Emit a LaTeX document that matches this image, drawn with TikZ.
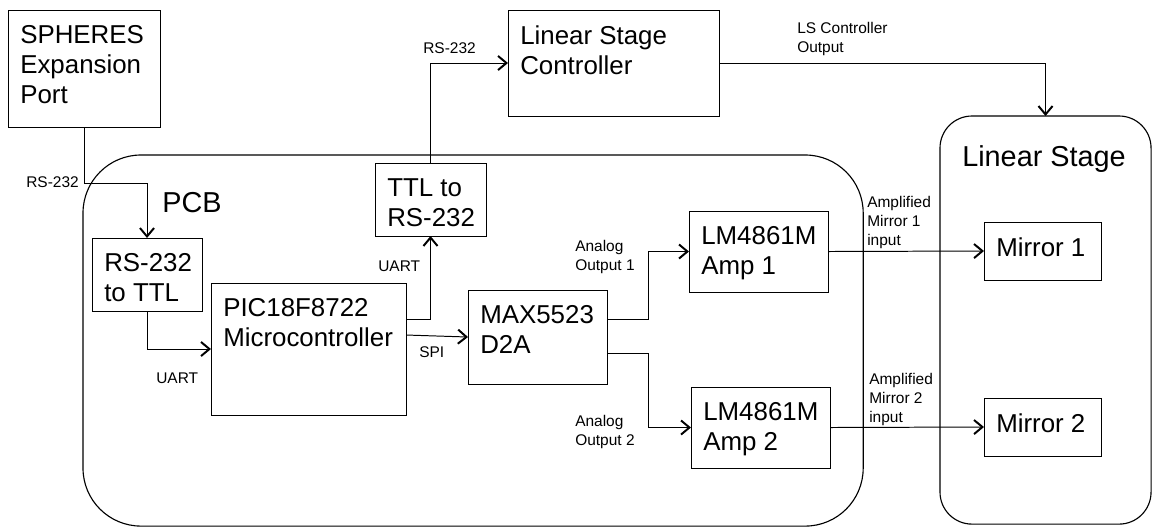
\documentclass[tikz,border=0pt]{standalone}
\usepackage{fontspec}
\setmainfont{Liberation Sans}
\usetikzlibrary{arrows.meta,positioning}

\begin{document}
\begin{tikzpicture}[
    x=0.025cm, y=-0.025cm,
    caja/.style={draw, line width=0.7pt, anchor=north west, inner sep=0pt, outer sep=0pt},
    grupo/.style={caja, line width=0.8pt},
    texto/.style={anchor=north west, inner sep=0pt, xshift=0.3cm, yshift=-0.375cm, align=left, font=\fontsize{18.4}{21.5}\selectfont},
    titulo/.style={anchor=north west, inner sep=0pt, font=\fontsize{20.5}{24}\selectfont},
    etiq/.style={inner sep=0pt, align=left, font=\fontsize{11}{13.5}\selectfont},
    flecha/.style={line width=0.7pt, -{Straight Barb[length=6pt,width=10pt,line width=1.4pt]}}
  ]
  \useasboundingbox (0,0) rectangle (1153,527);

  % Contenedores: PCB y etapa lineal
  \node[grupo, minimum width=19.5cm, minimum height=9.275cm, rounded corners=1.45cm] (pcb) at (83,155) {};
  \node[titulo] (pcbT) at (162,192) {PCB};
  \node[grupo, minimum width=5.275cm, minimum height=10.2cm, rounded corners=0.8cm] (ls) at (940,116) {};
  \node[titulo] (lsT) at (962,145) {Linear Stage};

  % Bloques
  \node[caja, minimum width=3.8cm, minimum height=2.925cm] (sph) at (8,10) {};
  \node[texto] (sphT) at (sph.north west) {SPHERES\\Expansion\\Port};
  \node[caja, minimum width=2.75cm, minimum height=1.825cm] (r2t) at (92,238) {};
  \node[texto] (r2tT) at (r2t.north west) {RS-232\\to TTL};
  \node[caja, minimum width=4.875cm, minimum height=3.3cm] (pic) at (211,283) {};
  \node[texto] (picT) at (pic.north west) {PIC18F8722\\Microcontroller};
  \node[caja, minimum width=2.775cm, minimum height=1.825cm] (ttl) at (375,163) {};
  \node[texto] (ttlT) at (ttl.north west) {TTL to\\RS-232};
  \node[caja, minimum width=5.275cm, minimum height=2.65cm] (lsc) at (508,10) {};
  \node[texto] (lscT) at (lsc.north west) {Linear Stage\\Controller};
  \node[caja, minimum width=3.475cm, minimum height=2.35cm] (max) at (468,290) {};
  \node[texto] (maxT) at (max.north west) {MAX5523\\D2A};
  \node[caja, minimum width=3.475cm, minimum height=2.025cm] (amp1) at (689,211) {};
  \node[texto] (amp1T) at (amp1.north west) {LM4861M\\Amp 1};
  \node[caja, minimum width=3.475cm, minimum height=2.025cm] (amp2) at (691,387) {};
  \node[texto] (amp2T) at (amp2.north west) {LM4861M\\Amp 2};
  \node[caja, minimum width=2.925cm, minimum height=1.45cm] (mir1) at (984,222) {};
  \node[texto] (mir1T) at (mir1.north west) {Mirror 1};
  \node[caja, minimum width=2.925cm, minimum height=1.45cm] (mir2) at (984,398) {};
  \node[texto] (mir2T) at (mir2.north west) {Mirror 2};

  % Conexiones
  \draw[flecha] (sph.south) -- ++(0,56) -| (r2t.north);
  \draw[flecha] (r2t.south) |- (pic.west);
  \draw[flecha] ([yshift=0.75cm]pic.east) -| (ttl.south);
  \draw[flecha] (ttl.north) |- (lsc.west);
  \draw[flecha] (lsc.east) -| (ls.north);
  \draw[flecha] ([yshift=0.35cm]pic.east) -- (max.west);
  \draw[flecha] ([yshift=0.45cm]max.east) -- ++(41,0) |- (amp1.west);
  \draw[flecha] ([yshift=-0.4cm]max.east) -- ++(41,0) |- (amp2.west);
  \draw[flecha] (amp1.east) -- (mir1.west);
  \draw[flecha] (amp2.east) -- (mir2.west);

  % Etiquetas de las señales
  \node[etiq, anchor=east] (rsA) at (79,182.5) {RS-232};
  \node[etiq, anchor=west] (uartA) at (156,378) {UART};
  \node[etiq, anchor=west] (uartB) at (378,266) {UART};
  \node[etiq, anchor=west] (rsB) at (423,48.5) {RS-232};
  \node[etiq, anchor=north west] (lsOut) at (797,22) {LS Controller\\Output};
  \node[etiq, anchor=west] (spi) at (419,352.5) {SPI};
  \node[etiq, anchor=north west] (an1) at (575,240) {Analog\\Output 1};
  \node[etiq, anchor=north west] (an2) at (575,415) {Analog\\Output 2};
  \node[etiq, anchor=north west] (am1) at (867,196) {Amplified\\Mirror 1\\input};
  \node[etiq, anchor=north west] (am2) at (869,373) {Amplified\\Mirror 2\\input};
\end{tikzpicture}
\end{document}
